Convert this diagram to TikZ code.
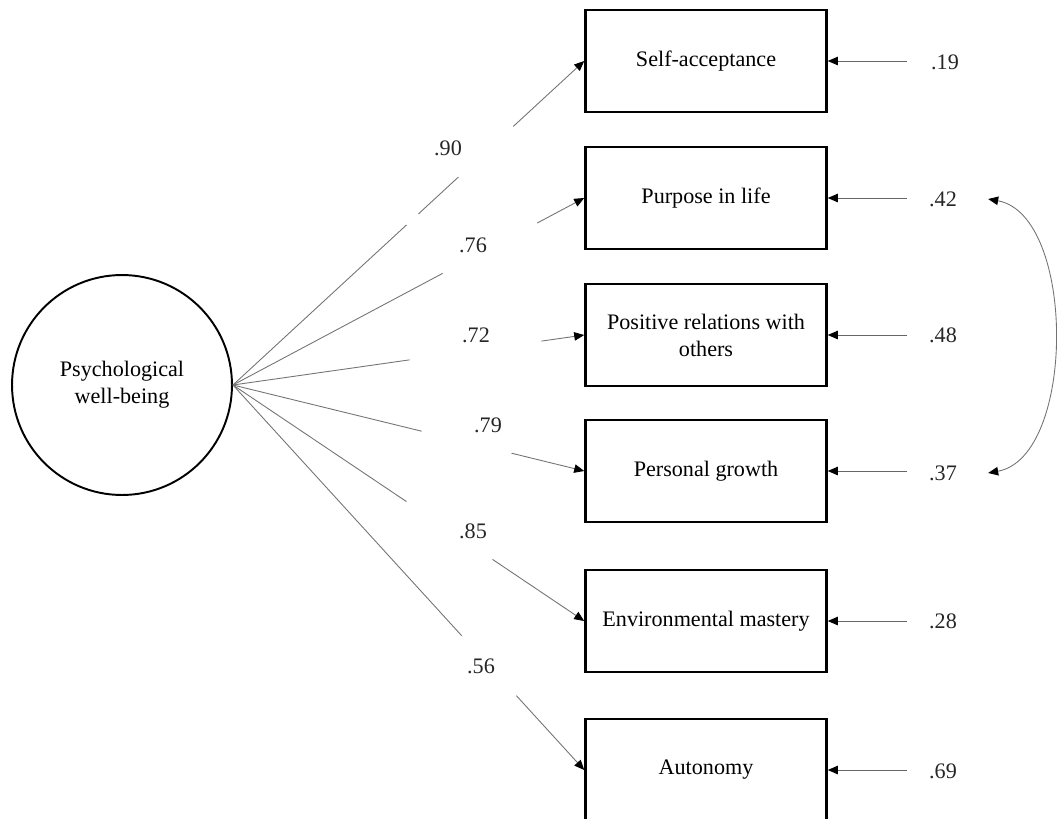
\documentclass[tikz,border=0pt]{standalone}
\usepackage{fontspec}
\setmainfont{Liberation Serif}
\usetikzlibrary{calc,arrows.meta}
\tikzset{
  lat/.style ={circle, draw=black, line width=1.1pt, minimum size=4.4cm, inner sep=1pt, align=center},
  obs/.style ={rectangle, draw=black, line width=1.5pt, minimum width=4.82cm, minimum height=2.04cm, align=center},
  num/.style ={inner sep=0pt, black!85},
  ld/.style  ={draw=black!55, line width=0.5pt},
  e/.style   ={ld, -{Triangle[length=2mm, width=1.7mm, color=black]}},
  err/.style ={draw=black!60, line width=0.5pt, -{Triangle[length=2mm, width=1.7mm, color=black]}},
  cov/.style ={draw=black!55, line width=0.5pt, {Triangle[length=2mm, width=1.7mm, color=black]}-{Triangle[length=2mm, width=1.7mm, color=black]}},
}

\begin{document}
\begin{tikzpicture}[x=0.02cm, y=-0.02cm, font=\fontsize{12.6pt}{15.3pt}\selectfont]
\useasboundingbox (0,0) rectangle (1057,818);
\node[lat] (pwb) at (122,385) {Psychological\\well-being};
\node[obs] (sa) at (706,61)  {Self-acceptance};
\node[obs] (pl) at (706,198) {Purpose in life};
\node[obs] (pr) at (706,335) {Positive relations with\\others};
\node[obs] (pg) at (706,471) {Personal growth};
\node[obs] (em) at (706,621) {Environmental mastery};
\node[obs] (au) at (706,770) {Autonomy};
% loadings
\node[num] (l1) at (448,148) {.90};
\node[num] (l2) at (473,245) {.76};
\node[num] (l3) at (476,335) {.72};
\node[num] (l4) at (488,425) {.79};
\node[num] (l5) at (473,531) {.85};
\node[num] (l6) at (481,666) {.56};
\draw[ld] (pwb.east) -- ($(pwb.east)!0.494!(sa.west)$);
\draw[ld] ($(pwb.east)!0.528!(sa.west)$) -- ($(pwb.east)!0.642!(sa.west)$);
\draw[e] ($(pwb.east)!0.798!(sa.west)$) -- (sa.west);
\draw[ld] (pwb.east) -- ($(pwb.east)!0.597!(pl.west)$);
\draw[e] ($(pwb.east)!0.866!(pl.west)$) -- (pl.west);
\draw[ld] (pwb.east) -- ($(pwb.east)!0.503!(pr.west)$);
\draw[e] ($(pwb.east)!0.878!(pr.west)$) -- (pr.west);
\draw[ld] (pwb.east) -- ($(pwb.east)!0.537!(pg.west)$);
\draw[e] ($(pwb.east)!0.793!(pg.west)$) -- (pg.west);
\draw[ld] (pwb.east) -- ($(pwb.east)!0.494!(em.west)$);
\draw[e] ($(pwb.east)!0.739!(em.west)$) -- (em.west);
\draw[ld] (pwb.east) -- ($(pwb.east)!0.651!(au.west)$);
\draw[e] ($(pwb.east)!0.807!(au.west)$) -- (au.west);
% residuals
\node[num] (d1) at (945,62)  {.19};
\node[num] (d2) at (943,199) {.42};
\node[num] (d3) at (943,335) {.48};
\node[num] (d4) at (943,473) {.37};
\node[num] (d5) at (943,621) {.28};
\node[num] (d6) at (943,771) {.69};
\draw[err] ([xshift=-0.48cm]d1.west |- sa.east) -- (sa.east);
\draw[err] ([xshift=-0.44cm]d2.west |- pl.east) -- (pl.east);
\draw[err] ([xshift=-0.44cm]d3.west |- pr.east) -- (pr.east);
\draw[err] ([xshift=-0.44cm]d4.west |- pg.east) -- (pg.east);
\draw[err] ([xshift=-0.44cm]d5.west |- em.east) -- (em.east);
\draw[err] ([xshift=-0.44cm]d6.west |- au.east) -- (au.east);
\draw[cov] ([xshift=0.62cm]d2.east) .. controls +(88,16) and +(88,-16) .. ([xshift=0.62cm]d4.east);
\end{tikzpicture}
\end{document}
